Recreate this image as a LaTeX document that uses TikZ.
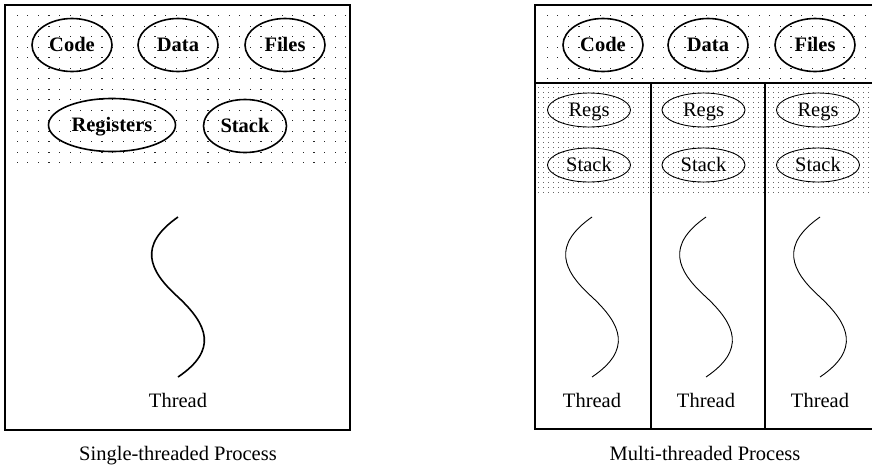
\documentclass[tikz,border=0pt]{standalone}
\usepackage{fontspec}
\setmainfont{Liberation Serif}
\usetikzlibrary{shapes.geometric}
\definecolor{dotc}{gray}{0.15}
\definecolor{finedotc}{gray}{0.4}
\tikzset{
  lbl/.style={font=\fontsize{20.5}{24}\selectfont, inner sep=0pt},
  bigell/.style={draw, ellipse, line width=1.6pt, inner sep=0pt, minimum height=53pt, text height=13.6pt, text depth=0pt, font=\fontsize{20.5}{24}\selectfont\bfseries},
  smallell/.style={draw, ellipse, line width=0.9pt, inner sep=0pt, minimum width=83pt, minimum height=34pt, text height=13.6pt, text depth=0pt, font=\fontsize{20.5}{24}\selectfont},
  frame/.style={line width=1.6pt},
  divider/.style={line width=1.1pt},
  thread/.style={line width=0.9pt},
  thickthread/.style={line width=1.6pt}
}
\begin{document}
\begin{tikzpicture}[x=1pt,y=-1pt]
\useasboundingbox (0,0) rectangle (872,467);
% dot grids
\foreach \i in {0,...,31}{
  \foreach \j in {0,...,14}{
    \fill[dotc] ({16.5+10.6*\i},{15+10.5*\j}) rectangle ++(1.3,1.3);
  }
}
\foreach \i in {0,...,31}{
  \foreach \j in {0,...,6}{
    \fill[dotc] ({546.5+10.6*\i},{15+10.5*\j}) rectangle ++(1.3,1.3);
  }
}
\foreach \i in {0,...,67}{
  \foreach \j in {0,...,21}{
    \fill[finedotc] ({538+5*\i},{87+5*\j}) rectangle ++(1,1);
  }
}
% left process
\draw[frame] (5,5) rectangle (350,430);
\node[bigell, minimum width=80pt] (lcode) at (72,45) {Code};
\node[bigell, minimum width=80pt] (ldata) at (178,45) {Data};
\node[bigell, minimum width=80pt] (lfiles) at (285,45) {Files};
\node[bigell, minimum width=127pt] (lregs) at (112,125) {Registers};
\node[bigell, minimum width=83pt] (lstack) at (245,126) {Stack};
\coordinate (lt1) at (178,217);
\coordinate (lt2) at (178,297);
\coordinate (lt3) at (178,377);
\draw[thickthread] (lt1) .. controls ++(-40,28) and ++(-30,-27) .. (lt2) .. controls ++(30,28) and ++(40,-27) .. (lt3);
\node[lbl] (lthread) at (178,400) {Thread};
\node[lbl, anchor=base] (lcap) at (178,460) {Single-threaded Process};
% right process
\draw[frame] (535,5) rectangle (879,429);
\draw[divider] (535,83) -- (879,83);
\draw[divider] (651,83) -- (651,429);
\draw[divider] (765,83) -- (765,429);
\node[bigell, minimum width=80pt] (rcode) at (603,45) {Code};
\node[bigell, minimum width=80pt] (rdata) at (708,45) {Data};
\node[bigell, minimum width=80pt] (rfiles) at (815,45) {Files};
\foreach \x/\c/\n in {589/592/a, 703.5/706/b, 818/820/c}{
  \node[smallell] (regs\n) at (\x,110) {Regs};
  \node[smallell] (stack\n) at (\x,165) {Stack};
  \coordinate (t1\n) at (\c,217);
  \coordinate (t2\n) at (\c,297);
  \coordinate (t3\n) at (\c,377);
  \draw[thread] (t1\n) .. controls ++(-40,28) and ++(-30,-27) .. (t2\n) .. controls ++(30,28) and ++(40,-27) .. (t3\n);
  \node[lbl] (thread\n) at (\c,400) {Thread};
}
\node[lbl, anchor=base] (rcap) at (705,460) {Multi-threaded Process};
\end{tikzpicture}
\end{document}
